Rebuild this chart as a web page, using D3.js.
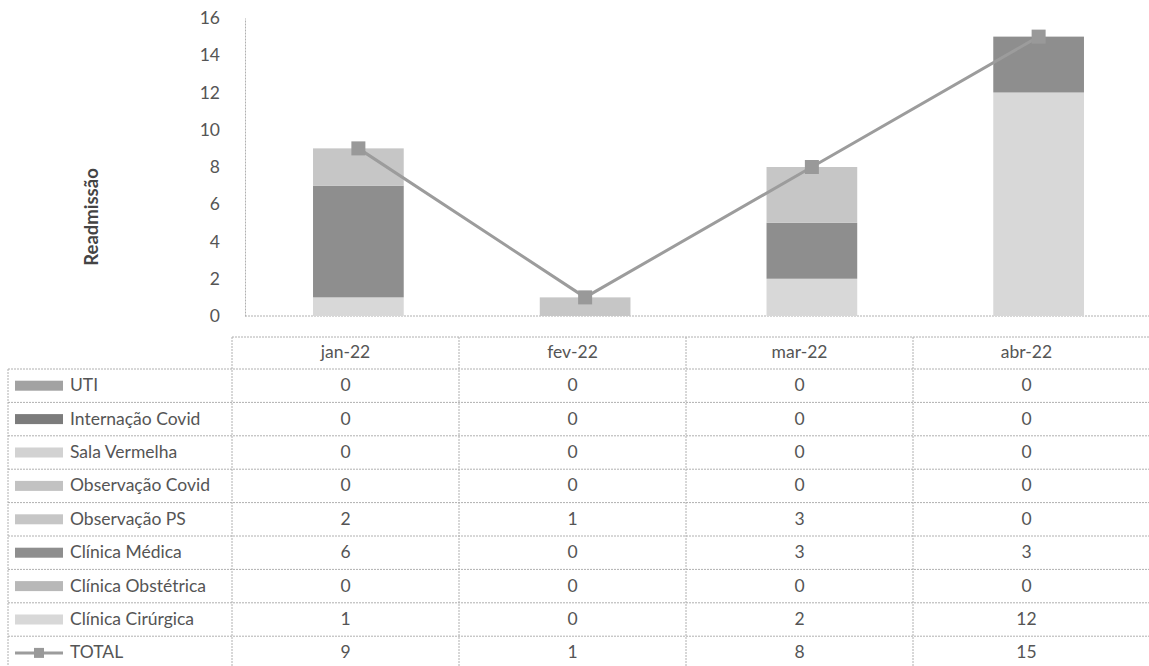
<!DOCTYPE html>
<html>
<head>
<meta charset="utf-8">
<script src="https://cdn.jsdelivr.net/npm/d3@7"></script>
<style>
  html, body { margin: 0; padding: 0; background: #fff; }
  svg { display: block; font-family: Lato, "Open Sans", sans-serif; }
</style>
</head>
<body>
<svg id="chart" width="1149" height="666"></svg>
<script>
// ---- data ----
const months = ["jan-22", "fev-22", "mar-22", "abr-22"];
const seriesNames = ["UTI", "Internação Covid", "Sala Vermelha", "Observação Covid",
                     "Observação PS", "Clínica Médica", "Clínica Obstétrica", "Clínica Cirúrgica"];
const uti = [0, 0, 0, 0];
const internacaoCovid = [0, 0, 0, 0];
const salaVermelha = [0, 0, 0, 0];
const observacaoCovid = [0, 0, 0, 0];
const observacaoPS = [2, 1, 3, 0];
const clinicaMedica = [6, 0, 3, 3];
const clinicaObstetrica = [0, 0, 0, 0];
const clinicaCirurgica = [1, 0, 2, 12];
const total = [9, 1, 8, 15];
const yTicks = [0, 2, 4, 6, 8, 10, 12, 14, 16];
const yTitle = "Readmissão";
const totalLabel = "TOTAL";

const seriesValues = [uti, internacaoCovid, salaVermelha, observacaoCovid,
                      observacaoPS, clinicaMedica, clinicaObstetrica, clinicaCirurgica];
const colors = ["#a2a2a2", "#7c7c7c", "#d2d2d2", "#c2c2c2",
                "#c6c6c6", "#8e8e8e", "#b8b8b8", "#d8d8d8"];
const lineColor = "#9c9c9c";
const textColor = "#555";
const gridColor = "#b0b0b0";
const fontSize = 17.5;

// ---- build stacked table ----
const rows = months.map((m, i) => {
  const r = { month: m };
  seriesNames.forEach((s, k) => r[s] = seriesValues[k][i]);
  return r;
});
// stack bottom-up: Cirúrgica at bottom, UTI at top (reverse legend order)
const stackOrder = seriesNames.slice().reverse();
const stacked = d3.stack().keys(stackOrder)(rows);
const colorOf = d3.scaleOrdinal().domain(seriesNames).range(colors);

const svg = d3.select("#chart");

// ---- scales ----
const x = d3.scaleBand().domain(months).range([245, 1152]).paddingInner(0.6).paddingOuter(0.3);
const y = d3.scaleLinear().domain([0, 16]).range([316, 18]);

// ---- axes ----
const yAxis = svg.append("g").attr("transform", "translate(245,0)")
  .call(d3.axisLeft(y).tickValues(yTicks).tickSize(0).tickPadding(25));
yAxis.select(".domain").attr("stroke", gridColor).attr("stroke-dasharray", "2,1");
yAxis.selectAll("text").attr("font-size", fontSize).attr("fill", textColor)
  .attr("font-family", "Lato, sans-serif");

svg.append("line")
  .attr("x1", 245).attr("x2", 1149).attr("y1", y(0)).attr("y2", y(0))
  .attr("stroke", gridColor).attr("stroke-dasharray", "2,1");

svg.append("text")
  .attr("transform", `translate(98,217) rotate(-90)`)
  .attr("text-anchor", "middle")
  .attr("font-size", 18.5).attr("font-weight", "bold").attr("fill", "#444")
  .text(yTitle);

// ---- bars ----
svg.append("g").selectAll("g").data(stacked).join("g")
  .attr("fill", d => colorOf(d.key))
  .selectAll("rect").data(d => d.filter(p => p[1] > p[0])).join("rect")
  .attr("x", d => x(d.data.month))
  .attr("width", x.bandwidth())
  .attr("y", d => y(d[1]))
  .attr("height", d => y(d[0]) - y(d[1]));

// ---- total line ----
const cx = m => x(m) + x.bandwidth() / 2;
svg.append("path")
  .datum(months.map((m, i) => [cx(m), y(total[i])]))
  .attr("fill", "none").attr("stroke", lineColor).attr("stroke-width", 3)
  .attr("d", d3.line());
svg.append("g").selectAll("rect").data(months).join("rect")
  .attr("x", m => cx(m) - 7).attr("y", (m, i) => y(total[i]) - 7)
  .attr("width", 14).attr("height", 14)
  .attr("fill", "#999");

// ---- data table ----
const tx = d3.scaleBand().domain(months).range([232, 1140]);
const labelLeft = 8;
const headTop = 337, rowTop = 369, rowH = 33.4;
const nRows = seriesNames.length + 1;
const tbl = svg.append("g").attr("font-size", fontSize).attr("fill", textColor);

const gl = (x1, y1, x2, y2) => tbl.append("line")
  .attr("x1", x1).attr("y1", y1).attr("x2", x2).attr("y2", y2)
  .attr("stroke", gridColor).attr("stroke-width", 1).attr("stroke-dasharray", "2,1");

// header row
gl(232, headTop, 1149, headTop);
months.forEach(m => {
  tbl.append("text").attr("x", tx(m) + tx.bandwidth() / 2).attr("y", (headTop + rowTop) / 2 + 1)
    .attr("text-anchor", "middle").attr("dominant-baseline", "middle").text(m);
});
// horizontal lines
for (let i = 0; i <= nRows; i++) gl(labelLeft, rowTop + i * rowH, 1149, rowTop + i * rowH);
// vertical lines
gl(labelLeft, rowTop, labelLeft, 666);
months.forEach(m => gl(tx(m), headTop, tx(m), 666));

const allRows = seriesNames.map((s, k) => ({ name: s, vals: seriesValues[k], color: colors[k], line: false }))
  .concat([{ name: totalLabel, vals: total, color: lineColor, line: true }]);

allRows.forEach((r, i) => {
  const cy = rowTop + i * rowH + rowH / 2;
  if (r.line) {
    tbl.append("line").attr("x1", 15).attr("x2", 63).attr("y1", cy).attr("y2", cy)
      .attr("stroke", r.color).attr("stroke-width", 3);
    tbl.append("rect").attr("x", 34).attr("y", cy - 5).attr("width", 10).attr("height", 10).attr("fill", "#999");
  } else {
    tbl.append("rect").attr("x", 15).attr("y", cy - 5).attr("width", 48).attr("height", 10).attr("fill", r.color);
  }
  tbl.append("text").attr("x", 70).attr("y", cy + 1).attr("dominant-baseline", "middle").text(r.name);
  months.forEach((m, j) => {
    tbl.append("text").attr("x", tx(m) + tx.bandwidth() / 2).attr("y", cy + 1)
      .attr("text-anchor", "middle").attr("dominant-baseline", "middle").text(r.vals[j]);
  });
});
</script>
</body>
</html>
